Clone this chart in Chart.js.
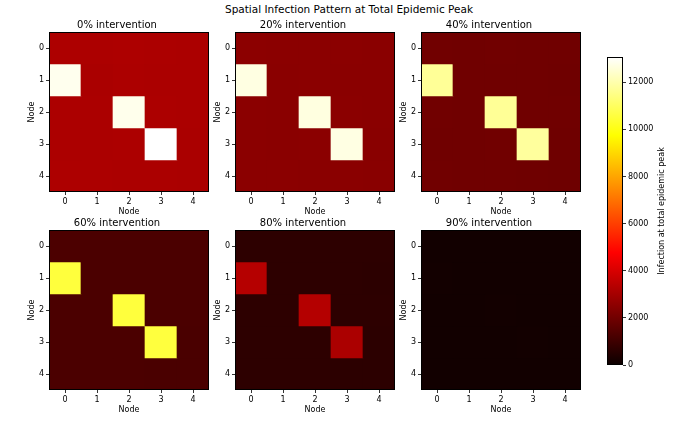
<!DOCTYPE html>
<html>
<head>
<meta charset="utf-8">
<script src="https://cdn.jsdelivr.net/npm/chart.js@4.4.0/dist/chart.umd.min.js"></script>
<style>
    html, body { margin: 0; padding: 0; background: #fff; }
    #fig { position: relative; width: 698px; height: 422px; overflow: hidden; font-family: "DejaVu Sans", sans-serif; }
    #fig canvas { position: absolute; }
    #suptitle { position: absolute; left: 0; top: 3px; width: 698px; text-align: center; font-size: 10.5px; color: #000; }
</style>
</head>
<body>
<div id="fig">
    <div id="suptitle">Spatial Infection Pattern at Total Epidemic Peak</div>
</div>
<script>
/* -------- Data -------- */
const nodes = ['0', '1', '2', '3', '4'];
const interventions = ['0%', '20%', '40%', '60%', '80%', '90%'];

// rows = node on y axis, columns = node on x axis
const peak0 = [
    [3180, 3150, 3170, 3160, 3140],
    [12850, 3120, 3150, 3140, 3130],
    [3160, 3130, 12820, 3150, 3140],
    [3150, 3140, 3160, 13070, 3120],
    [3170, 3150, 3140, 3130, 3110],
];
const peak20 = [
    [2520, 2500, 2510, 2500, 2490],
    [12690, 2480, 2500, 2490, 2480],
    [2510, 2490, 12670, 2500, 2490],
    [2500, 2490, 2510, 12700, 2470],
    [2510, 2500, 2490, 2480, 2460],
];
const peak40 = [
    [1990, 1980, 1990, 1980, 1970],
    [11720, 1970, 1980, 1970, 1960],
    [1990, 1970, 11700, 1980, 1970],
    [1980, 1970, 1990, 11800, 1960],
    [1990, 1980, 1970, 1960, 1950],
];
const peak60 = [
    [1270, 1260, 1265, 1260, 1250],
    [10550, 1255, 1260, 1255, 1250],
    [1265, 1255, 10540, 1260, 1250],
    [1260, 1250, 1265, 10560, 1245],
    [1265, 1260, 1250, 1245, 1240],
];
const peak80 = [
    [680, 670, 675, 670, 665],
    [3320, 665, 670, 665, 660],
    [675, 665, 3310, 670, 665],
    [670, 665, 675, 3130, 660],
    [675, 670, 665, 660, 655],
];
const peak90 = [
    [150, 148, 150, 148, 146],
    [170, 147, 149, 148, 146],
    [150, 148, 168, 149, 147],
    [149, 147, 150, 165, 146],
    [150, 148, 147, 146, 145],
];
const cbarTicks = [0, 2000, 4000, 6000, 8000, 10000, 12000];

const panels = [peak0, peak20, peak40, peak60, peak80, peak90];
const vmax = Math.max(...panels.flat(2));

/* -------- Helpers -------- */
Chart.defaults.color = '#000';
Chart.defaults.font.family = '"DejaVu Sans", sans-serif';

// matplotlib "hot" colormap
function hot(t) {
    t = Math.max(0, Math.min(1, t));
    const r = t < 0.365079 ? 0.0416 + (1 - 0.0416) * t / 0.365079 : 1;
    const g = t < 0.365079 ? 0 : t < 0.746032 ? (t - 0.365079) / (0.746032 - 0.365079) : 1;
    const b = t < 0.746032 ? 0 : (t - 0.746032) / (1 - 0.746032);
    return `rgb(${Math.round(r * 255)},${Math.round(g * 255)},${Math.round(b * 255)})`;
}

const frame = {
    id: 'frame',
    afterDraw(chart) {
        const a = chart.chartArea;
        const ctx = chart.ctx;
        ctx.save();
        ctx.strokeStyle = '#000';
        ctx.lineWidth = 1;
        ctx.strokeRect(Math.round(a.left) + 0.5, Math.round(a.top) + 0.5,
            Math.round(a.right - a.left) - 1, Math.round(a.bottom - a.top) - 1);
        ctx.restore();
    },
};

const fig = document.getElementById('fig');
function addCanvas(left, top, w, h) {
    const cv = document.createElement('canvas');
    cv.width = w;
    cv.height = h;
    cv.style.left = left + 'px';
    cv.style.top = top + 'px';
    cv.style.width = w + 'px';
    cv.style.height = h + 'px';
    fig.appendChild(cv);
    return cv;
}

/* -------- Heatmap panels -------- */
const axLefts = [49, 235, 421];
const axTops = [32, 230];

panels.forEach((grid, p) => {
    const left = axLefts[p % 3] - 24;
    const top = axTops[Math.floor(p / 3)] - 20;
    const cv = addCanvas(left, top, 186, 206);
    new Chart(cv, {
        type: 'bar',
        data: {
            labels: nodes,
            datasets: grid.map((row, r) => ({
                data: row.map(() => [r - 0.5, r + 0.5]),
                backgroundColor: row.map((v) => hot(v / vmax)),
                borderWidth: 0,
                barPercentage: 1,
                categoryPercentage: 1,
                grouped: false,
            })),
        },
        options: {
            responsive: false,
            animation: false,
            events: [],
            layout: { padding: { right: 2 } },
            plugins: {
                legend: { display: false },
                tooltip: { enabled: false },
                title: {
                    display: true,
                    text: interventions[p] + ' intervention',
                    font: { size: 10, weight: 'normal' },
                    padding: { top: 7, bottom: 1 },
                },
            },
            scales: {
                x: {
                    afterFit: (s) => { s.height = 26; },
                    grid: { offset: false, drawOnChartArea: false, tickLength: 3, color: '#000', lineWidth: 0.8 },
                    border: { display: false },
                    ticks: { font: { size: 8 }, padding: 2, maxRotation: 0 },
                    title: { display: true, text: 'Node', font: { size: 8 }, padding: { top: 0, bottom: 1 } },
                },
                y: {
                    min: -0.5,
                    max: 4.5,
                    reverse: true,
                    afterBuildTicks: (s) => { s.ticks = nodes.map((n, i) => ({ value: i })); },
                    afterFit: (s) => { s.width = 24; },
                    grid: { drawOnChartArea: false, tickLength: 3, color: '#000', lineWidth: 0.8 },
                    border: { display: false },
                    ticks: { font: { size: 8 }, padding: 2, callback: (v) => nodes[v] },
                    title: { display: true, text: 'Node', font: { size: 8 }, padding: { top: 2, bottom: 0 } },
                },
            },
        },
        plugins: [frame],
    });
});

/* -------- Colorbar -------- */
function gradFill(ctx) {
    const chart = ctx.chart;
    const a = chart.chartArea;
    if (!a) return 'black';
    const y = chart.scales.y;
    const g = chart.ctx.createLinearGradient(0, y.getPixelForValue(0), 0, y.getPixelForValue(vmax));
    [0, 0.365079, 0.746032, 1].forEach((t) => g.addColorStop(t, hot(t)));
    return g;
}

const cbarLabel = {
    id: 'cbarLabel',
    afterDraw(chart) {
        const a = chart.chartArea;
        const ctx = chart.ctx;
        ctx.save();
        ctx.translate(a.right + 39, (a.top + a.bottom) / 2);
        ctx.rotate(-Math.PI / 2);
        ctx.fillStyle = '#000';
        ctx.font = '8px "DejaVu Sans", sans-serif';
        ctx.textAlign = 'center';
        ctx.textBaseline = 'middle';
        ctx.fillText('Infection at total epidemic peak', 0, 0);
        ctx.restore();
    },
};

const cbarCanvas = addCanvas(600, 50, 98, 322);
new Chart(cbarCanvas, {
    type: 'bar',
    data: {
        labels: ['peak'],
        datasets: [{
            data: [[0, vmax]],
            backgroundColor: gradFill,
            borderWidth: 0,
            barPercentage: 1,
            categoryPercentage: 1,
        }],
    },
    options: {
        responsive: false,
        animation: false,
        events: [],
        layout: { padding: { left: 7, top: 7, bottom: 7, right: 0 } },
        plugins: { legend: { display: false }, tooltip: { enabled: false } },
        scales: {
            x: { display: false },
            y: {
                position: 'right',
                min: 0,
                max: vmax,
                afterBuildTicks: (s) => { s.ticks = cbarTicks.map((v) => ({ value: v })); },
                afterFit: (s) => { s.width = 75; },
                grid: { drawOnChartArea: false, tickLength: 3, color: '#000', lineWidth: 0.8 },
                border: { display: false },
                ticks: { font: { size: 8 }, padding: 2, callback: (v) => String(v) },
            },
        },
    },
    plugins: [frame, cbarLabel],
});
</script>
</body>
</html>
